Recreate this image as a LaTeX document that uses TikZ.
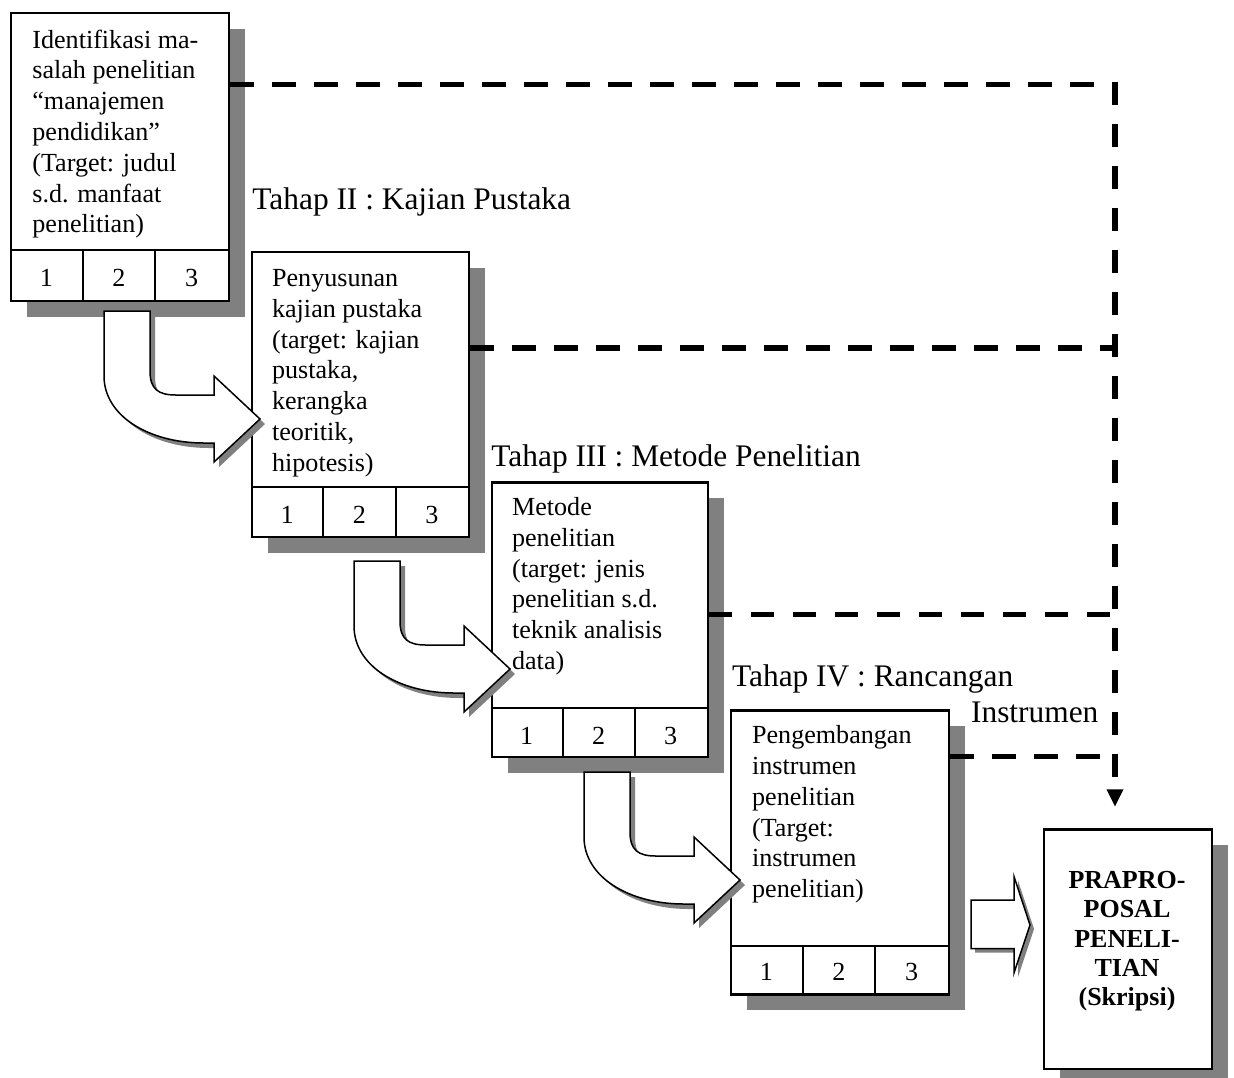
\documentclass[tikz,border=0pt]{standalone}
\usepackage{fontspec}
\setmainfont{Liberation Serif}
\usetikzlibrary{shadows,arrows.meta,calc}
\definecolor{shadowgray}{RGB}{128,128,128}
\newcommand{\fl}{\rule{0pt}{10pt}}
\tikzset{
  stagebox/.style={draw, line width=1.1pt, fill=white, inner sep=0pt, anchor=north west,
    drop shadow={shadow xshift=8pt, shadow yshift=-8pt, fill=shadowgray, opacity=1}},
  celldiv/.style={line width=0.9pt},
  boxtext/.style={anchor=north west, inner sep=0pt, align=left, font=\fontsize{13.05pt}{15.4pt}\selectfont},
  numtext/.style={anchor=base, inner sep=0pt, font=\fontsize{13.05pt}{15.4pt}\selectfont},
  headtext/.style={anchor=base west, inner sep=0pt, font=\fontsize{15.7pt}{18pt}\selectfont},
  dashline/.style={line width=2.75pt, dash pattern=on 11.65pt off 9.35pt},
  blockarrow/.style={draw, fill=white, line width=0.75pt, line join=miter},
  arrowshadow/.style={fill=shadowgray},
}
\newcommand{\bentpath}{(0,0) -- (46,0) -- (46,60) .. controls (46,78) and (54,84) .. (72,84) -- (110,84) -- (110,65) -- (156,108) -- (110,151) -- (110,132) -- (100,132) .. controls (45,132) and (0,105) .. (0,65) -- cycle}
\newcommand{\straightpath}{(971,900) -- (1014,900) -- (1014,876.5) -- (1030,925) -- (1014,973) -- (1014,948.5) -- (971,948.5) -- cycle}
\begin{document}
\begin{tikzpicture}[x=0.5pt, y=-0.5pt]
\useasboundingbox[fill=white] (0,0) rectangle (1234,1077);

% boxes
\node[stagebox, minimum width=109pt, minimum height=144pt] (b1) at (10,12) {};
\node[stagebox, minimum width=108.5pt, minimum height=142.5pt] (b2) at (251,251) {};
\node[stagebox, minimum width=108pt, minimum height=137.35pt] (b3) at (490.7,481.3) {};
\node[stagebox, minimum width=109pt, minimum height=142pt] (b4) at (730,709.3) {};
\node[stagebox, minimum width=84.15pt, minimum height=119.85pt] (b5) at (1042.7,828.3) {};

% cell rows
\draw[celldiv] (10,250) -- (228,250) (82.7,250) -- (82.7,300) (155.3,250) -- (155.3,300);
\draw[celldiv] (251,487) -- (468,487) (323.3,487) -- (323.3,536) (395.7,487) -- (395.7,536);
\draw[celldiv] (490.7,708.3) -- (706.7,708.3) (562.7,708.3) -- (562.7,756) (634.7,708.3) -- (634.7,756);
\draw[celldiv] (730,946) -- (948,946) (802.7,946) -- (802.7,993.3) (875.3,946) -- (875.3,993.3);

% bent block arrows
\begin{scope}[shift={(104,311)}]
  \fill[arrowshadow, shift={(5,5)}] \bentpath;
  \draw[blockarrow] \bentpath;
\end{scope}
\begin{scope}[shift={(354,561)}]
  \fill[arrowshadow, shift={(5,5)}] \bentpath;
  \draw[blockarrow] \bentpath;
\end{scope}
\begin{scope}[shift={(584,772)}]
  \fill[arrowshadow, shift={(5,5)}] \bentpath;
  \draw[blockarrow] \bentpath;
\end{scope}
\fill[arrowshadow, shift={(4,4)}] \straightpath;
\draw[blockarrow] \straightpath;

% texts
\node[boxtext] (t1) at (32,27.7) {\fl Identifikasi ma-\\salah penelitian\\“manajemen\\pendidikan”\\(Target: judul\\s.d. manfaat\\penelitian)};
\node[boxtext] (t2) at (271.7,266) {\fl Penyusunan\\kajian pustaka\\(target: kajian\\pustaka,\\kerangka\\teoritik,\\hipotesis)};
\node[boxtext] (t3) at (511.7,495) {\fl Metode\\penelitian\\(target: jenis\\penelitian s.d.\\teknik analisis\\data)};
\node[boxtext] (t4) at (751.7,723.3) {\fl Pengembangan\\instrumen\\penelitian\\(Target:\\instrumen\\penelitian)};
\node[anchor=north, inner sep=0pt, align=center, font=\fontsize{13pt}{14.65pt}\selectfont\bfseries] (t5) at (1127,868) {\fl PRAPRO-\\POSAL\\PENELI-\\TIAN\\(Skripsi)};

\node[numtext] (n11) at (46.3,286.7) {1};
\node[numtext] (n12) at (119,286.7) {2};
\node[numtext] (n13) at (191.7,286.7) {3};
\node[numtext] (n21) at (287.2,523.5) {1};
\node[numtext] (n22) at (359.5,523.5) {2};
\node[numtext] (n23) at (431.8,523.5) {3};
\node[numtext] (n31) at (526.7,744.5) {1};
\node[numtext] (n32) at (598.7,744.5) {2};
\node[numtext] (n33) at (670.7,744.5) {3};
\node[numtext] (n41) at (766.3,980.5) {1};
\node[numtext] (n42) at (839,980.5) {2};
\node[numtext] (n43) at (911.7,980.5) {3};

\node[headtext] (h2) at (252,209.3) {Tahap II : Kajian Pustaka};
\node[headtext] (h3) at (491,466.5) {Tahap III : Metode Penelitian};
\node[headtext] (h4) at (731.7,686) {Tahap IV : Rancangan};
\node[headtext] (h4b) at (970.7,722.7) {Instrumen};

% dashed connectors
\coordinate (j1) at (1115,84.5);
\coordinate (j2) at (1115,348);
\coordinate (j3) at (1115,614.5);
\coordinate (j4) at (1115,756.7);
\coordinate (jtop) at (1115,81.8);
\draw[dashline] (b1.north east |- j1) -- (j1);
\draw[dashline] (b2.north east |- j2) -- (j2);
\draw[dashline] (b3.north east |- j3) -- (j3);
\draw[dashline] (b4.north east |- j4) -- (j4);
\draw[dashline, -{Triangle[width=8.5pt,length=8.5pt,line width=0pt]}, shorten >=11pt] (jtop) -- (jtop |- b5.north);
\end{tikzpicture}
\end{document}
